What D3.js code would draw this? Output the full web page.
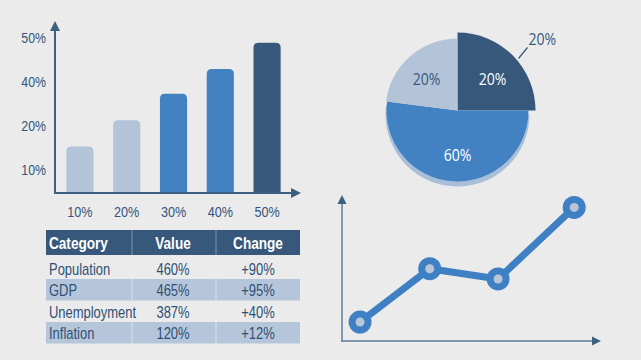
<!DOCTYPE html>
<html>
<head>
<meta charset="utf-8">
<script src="https://cdn.jsdelivr.net/npm/d3@7"></script>
<style>
  html, body { margin: 0; padding: 0; background: #ebebeb; }
  svg { display: block; }
</style>
</head>
<body>
<div id="chart"></div>
<script>
// bar chart
const barLabels = ["10%", "20%", "30%", "40%", "50%"];
const barValues = [15, 23.5, 32, 40, 48.5];
const barColors = ["#b3c4d8", "#b3c4d8", "#4282c2", "#4282c2", "#37587a"];
const yTickLabels = ["10%", "20%", "40%", "50%"];

// pie
const pieValues = [25, 52, 23];
const pieLabels = ["20%", "60%", "20%"];
const pieColors = ["#37587a", "#4282c2", "#b3c4d8"];

// table
const tableHeader = ["Category", "Value", "Change"];
const tableCategories = ["Population", "GDP", "Unemployment", "Inflation"];
const tableValues = ["460%", "465%", "387%", "120%"];
const tableChanges = ["+90%", "+95%", "+40%", "+12%"];

// line chart
const lineX = [0.7, 3.4, 6.05, 9];
const lineY = [1.3, 4.95, 4.25, 9.15];

const W = 641, H = 360;
const axisColor = "#3d5f80";
const textColor = "#34557a";

const svg = d3.select("#chart").append("svg")
  .attr("width", W).attr("height", H);

svg.append("rect").attr("width", W).attr("height", H).attr("fill", "#ebebeb");

function arrow(g, x, y, dir, size, color) {
  const s = size;
  let pts;
  if (dir === "up") pts = [[x, y], [x - s / 2, y + s], [x + s / 2, y + s]];
  else pts = [[x, y], [x - s, y - s / 2], [x - s, y + s / 2]];
  g.append("path").attr("d", d3.line()(pts) + "Z").attr("fill", color);
}

// the source art is squeezed sideways, so text gets a horizontal scale
function squash(sel, sx) {
  sel.each(function () {
    const t = d3.select(this);
    const x = +t.attr("x"), y = +t.attr("y");
    t.attr("x", 0).attr("y", 0)
      .attr("transform", `translate(${x},${y}) scale(${sx},1)`);
  });
}

// ---------- bar chart ----------
{
  const g = svg.append("g");
  const base = 193;
  const x = d3.scaleBand().domain(barLabels).range([57, 290]).paddingInner(0.42).paddingOuter(0.2);
  const y = d3.scaleLinear().domain([0, 50]).range([base, 38]);
  const yTicks = d3.scalePoint().domain(yTickLabels).range([170, 38]);

  const r = 5;
  g.selectAll(".bar").data(barValues).enter().append("path")
    .attr("fill", (d, i) => barColors[i])
    .attr("d", (d, i) => {
      const x0 = x(barLabels[i]), w = x.bandwidth(), top = y(d);
      return `M${x0},${base}V${top + r}Q${x0},${top} ${x0 + r},${top}H${x0 + w - r}Q${x0 + w},${top} ${x0 + w},${top + r}V${base}Z`;
    });

  g.append("line").attr("x1", 55).attr("x2", 55).attr("y1", 30).attr("y2", base + 1)
    .attr("stroke", axisColor).attr("stroke-width", 2);
  g.append("line").attr("x1", 54).attr("x2", 292).attr("y1", base).attr("y2", base)
    .attr("stroke", axisColor).attr("stroke-width", 2);
  arrow(g, 55, 21, "up", 10, axisColor);
  arrow(g, 301, base, "right", 10, axisColor);

  g.selectAll(".ytick").data(yTickLabels).enter().append("text")
    .attr("x", 46).attr("y", d => yTicks(d)).attr("dy", "0.35em")
    .attr("text-anchor", "end")
    .style("font-family", "Liberation Sans, Arial").style("font-size", "14.5px")
    .attr("fill", textColor).text(d => d)
    .call(squash, 0.85);

  g.selectAll(".xtick").data(barLabels).enter().append("text")
    .attr("x", d => x(d) + x.bandwidth() / 2).attr("y", 212).attr("dy", "0.35em")
    .attr("text-anchor", "middle")
    .style("font-family", "Liberation Sans, Arial").style("font-size", "14.5px")
    .attr("fill", textColor).text(d => d)
    .call(squash, 0.87);
}

// ---------- table ----------
{
  const g = svg.append("g");
  const left = 46, right = 300;
  const colEdges = [46, 132, 216, 300];
  const headTop = 230, headH = 25, rowH = 21.5;
  const rowY = d3.scaleBand().domain(d3.range(tableCategories.length))
    .range([headTop + headH + 2.5, headTop + headH + 2.5 + rowH * tableCategories.length]);

  g.append("rect").attr("x", left).attr("y", headTop).attr("width", right - left).attr("height", headH)
    .attr("fill", "#37587a");

  g.selectAll(".rowbg").data(tableCategories).enter().filter((d, i) => i % 2 === 1)
    .append("rect")
    .attr("x", left).attr("width", right - left)
    .attr("y", (d) => rowY(tableCategories.indexOf(d))).attr("height", rowY.bandwidth())
    .attr("fill", "#b6c6da");

  // column separators
  [colEdges[1], colEdges[2]].forEach(cx => {
    g.append("line").attr("x1", cx).attr("x2", cx).attr("y1", headTop).attr("y2", headTop + headH)
      .attr("stroke", "#6f8aa6").attr("stroke-width", 1.2);
    tableCategories.forEach((d, i) => {
      if (i % 2 === 1) {
        g.append("line").attr("x1", cx).attr("x2", cx)
          .attr("y1", rowY(i)).attr("y2", rowY(i) + rowY.bandwidth())
          .attr("stroke", "#d4dde8").attr("stroke-width", 1.2);
      }
    });
  });

  const colX = [49, 173, 258];
  const anchors = ["start", "middle", "middle"];
  g.selectAll(".head").data(tableHeader).enter().append("text")
    .attr("x", (d, i) => colX[i]).attr("y", headTop + headH / 2 + 1).attr("dy", "0.35em")
    .attr("text-anchor", (d, i) => anchors[i])
    .style("font-family", "Liberation Sans, Arial").style("font-size", "16px").style("font-weight", "bold")
    .attr("fill", "#ffffff").text(d => d)
    .call(squash, 0.85);

  const cols = [tableCategories, tableValues, tableChanges];
  cols.forEach((col, c) => {
    g.selectAll(".c" + c).data(col).enter().append("text")
      .attr("x", colX[c]).attr("y", (d, i) => rowY(i) + rowY.bandwidth() / 2 + 1).attr("dy", "0.35em")
      .attr("text-anchor", anchors[c])
      .style("font-family", "Liberation Sans, Arial").style("font-size", "16px")
      .attr("fill", "#2f5075").text(d => d)
      .call(squash, 0.81);
  });
}

// ---------- pie ----------
{
  const cx = 457.5, cy = 110.5;
  const radii = [78, 71, 72];
  const g = svg.append("g").attr("transform", `translate(${cx},${cy})`);
  const pie = d3.pie().sort(null).value(d => d);
  const arcs = pie(pieValues);

  // shadow under blue slice
  const blue = arcs[1];
  g.append("path")
    .attr("d", d3.arc().innerRadius(0).outerRadius(radii[1] + 1)(blue))
    .attr("transform", "translate(0,4)")
    .attr("fill", "#a9bfd9");

  g.selectAll(".slice").data(arcs).enter().append("path")
    .attr("d", (d, i) => d3.arc().innerRadius(0).outerRadius(radii[i])(d))
    .attr("fill", (d, i) => pieColors[i]);

  const labelPos = [[35, -31], [0, 45], [-31, -31]];
  const labelColors = ["#ffffff", "#ffffff", "#37587a"];
  g.selectAll(".plabel").data(arcs).enter().append("text")
    .attr("x", (d, i) => labelPos[i][0]).attr("y", (d, i) => labelPos[i][1]).attr("dy", "0.35em")
    .attr("text-anchor", "middle")
    .style("font-family", "Open Sans, sans-serif").style("font-size", "16px")
    .attr("fill", (d, i) => labelColors[i]).text((d, i) => pieLabels[i])
    .call(squash, 0.88);

  // outside label for first slice
  g.append("line").attr("x1", 61).attr("y1", -52).attr("x2", 70).attr("y2", -63)
    .attr("stroke", "#37587a").attr("stroke-width", 1.2);
  g.append("text").attr("x", 71).attr("y", -71).attr("dy", "0.35em")
    .style("font-family", "Open Sans, sans-serif").style("font-size", "16px")
    .attr("fill", "#37587a").text(pieLabels[0])
    .call(squash, 0.88);
}

// ---------- line chart ----------
{
  const g = svg.append("g");
  const x = d3.scaleLinear().domain([0, 10]).range([342, 600]);
  const y = d3.scaleLinear().domain([0, 10]).range([341, 195]);
  const lineAxis = "#5d7b98";

  g.append("line").attr("x1", 342).attr("x2", 342).attr("y1", 203).attr("y2", 341)
    .attr("stroke", lineAxis).attr("stroke-width", 1.5);
  g.append("line").attr("x1", 341).attr("x2", 593).attr("y1", 341).attr("y2", 341)
    .attr("stroke", lineAxis).attr("stroke-width", 1.5);
  arrow(g, 342, 195, "up", 9, "#3d5f80");
  arrow(g, 601, 341, "right", 9, "#3d5f80");

  const pts = lineX.map((d, i) => [d, lineY[i]]);
  g.append("path").datum(pts)
    .attr("d", d3.line().x(d => x(d[0])).y(d => y(d[1])))
    .attr("fill", "none").attr("stroke", "#3f80c4").attr("stroke-width", 7);

  g.selectAll(".pt").data(pts).enter().append("circle")
    .attr("cx", d => x(d[0])).attr("cy", d => y(d[1])).attr("r", 11.5)
    .attr("fill", "#3f80c4");
  g.selectAll(".ptin").data(pts).enter().append("circle")
    .attr("cx", d => x(d[0])).attr("cy", d => y(d[1])).attr("r", 4.5)
    .attr("fill", "#b8c6d8");
}
</script>
</body>
</html>
